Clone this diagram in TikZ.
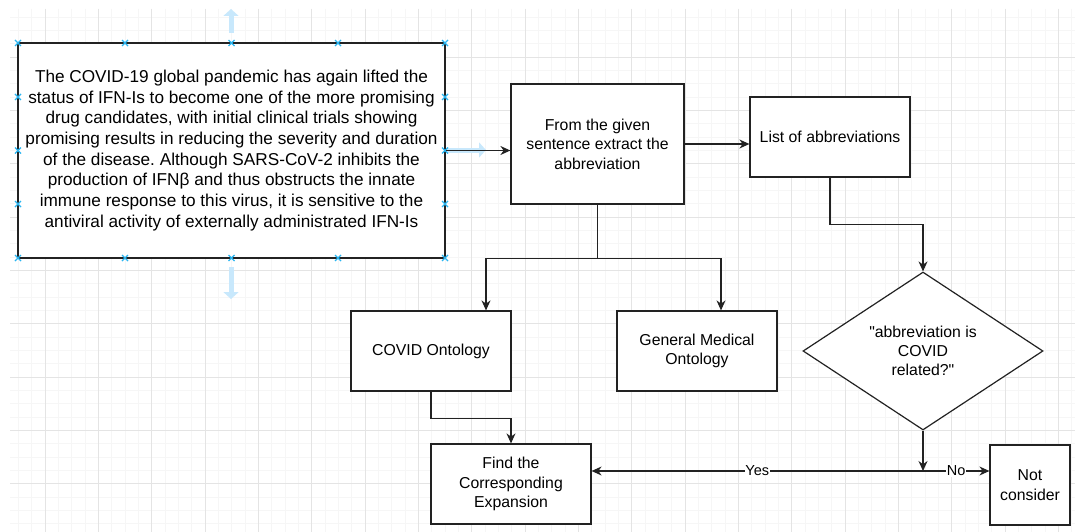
\documentclass[tikz,border=0pt]{standalone}
\usepackage{fontspec}
\setmainfont{Liberation Sans}
\usetikzlibrary{arrows.meta,shapes.geometric}
\frenchspacing
\definecolor{gridminor}{RGB}{246,246,246}
\definecolor{gridmajor}{RGB}{228,228,228}
\definecolor{handle}{RGB}{41,182,242}
\definecolor{hover}{RGB}{200,232,252}
\definecolor{ink}{RGB}{34,34,34}
\tikzset{
  box/.style={draw=ink, line width=1.2pt, fill=white, rectangle, inner sep=2pt,
    align=center, text=black, font=\fontsize{15.8}{19.5}\selectfont},
  bigtext/.style={font=\fontsize{17.2}{20.7}\selectfont},
  decbox/.style={draw=ink, line width=1.2pt, fill=white, diamond, inner sep=0pt,
    align=center, text=black, font=\fontsize{15.8}{19}\selectfont},
  conn/.style={draw=ink, line width=1.2pt},
  arr/.style={conn, -{Stealth[length=10pt,width=9pt]}},
  elabel/.style={fill=white, inner sep=0.5pt, text=black, font=\fontsize{14.5}{16}\selectfont},
  hmark/.style={draw=handle, line width=1.3pt},
  hoverarrow/.style={draw=hover, line width=5pt, -{Triangle[length=7pt,width=15pt]}},
}
\begin{document}
\begin{tikzpicture}[x=1pt,y=-1pt]
\useasboundingbox (0,0) rectangle (1075,532);
\fill[white] (0,0) rectangle (1075,532);
% grid
\begin{scope}
\clip (10,9) rectangle (1075,532);
\foreach \i in {0,...,81} {\draw[gridminor, line width=0.8pt] ({5+13.3333*\i},9) -- ++(0,523);}
\foreach \i in {0,...,40} {\draw[gridminor, line width=0.8pt] (10,{3.67+13.3333*\i}) -- ++(1065,0);}
\foreach \i in {-1,...,20} {\draw[gridmajor, line width=1pt] ({45+53.3333*\i},9) -- ++(0,523);}
\foreach \i in {0,...,10} {\draw[gridmajor, line width=1pt] (10,{3.67+53.3333*\i}) -- ++(1065,0);}
\end{scope}
% faint hover arrows
\draw[hoverarrow] (231,33) -- (231,9);
\draw[hoverarrow] (231,267) -- (231,299);
\draw[hoverarrow] (446,150) -- (486,150);
% nodes
\node[box, bigtext, minimum width=427pt, minimum height=215pt] (src) at (231.5,150.5)
  {The COVID-19 global pandemic has again lifted the\\
   status of IFN-Is to become one of the more promising\\
   drug candidates, with initial clinical trials showing\\
   promising results in reducing the severity and duration\\
   of the disease. Although SARS-CoV-2 inhibits the\\
   production of IFNβ and thus obstructs the innate\\
   immune response to this virus, it is sensitive to the\\
   antiviral activity of externally administrated IFN-Is};
\node[box, minimum width=173pt, minimum height=120pt] (ext) at (597.5,144)
  {From the given\\sentence extract the\\abbreviation};
\node[box, minimum width=160pt, minimum height=80pt] (list) at (830,137)
  {List of abbreviations};
\node[decbox, minimum width=240pt, minimum height=158pt] (dec) at (923,351)
  {\textquotedbl abbreviation is\\COVID\\related?\textquotedbl};
\node[box, minimum width=160pt, minimum height=80pt] (covid) at (431,351)
  {COVID Ontology};
\node[box, minimum width=160pt, minimum height=80pt] (gen) at (697,351)
  {General Medical\\Ontology};
\node[box, minimum width=160pt, minimum height=80pt] (find) at (511,484)
  {Find the\\Corresponding\\Expansion};
\node[box, minimum width=80pt, minimum height=80pt] (notc) at (1030,485)
  {Not\\consider};
\coordinate (j) at (923,471);
% handles on the selected text box
\foreach \hx in {18,125,231.5,338,445} {
  \foreach \hy in {43,258} {
    \draw[hmark] (\hx-3,\hy-3) -- (\hx+3,\hy+3) (\hx-3,\hy+3) -- (\hx+3,\hy-3);
  }
}
\foreach \hx in {18,445} {
  \foreach \hy in {97,150.5,204} {
    \draw[hmark] (\hx-3,\hy-3) -- (\hx+3,\hy+3) (\hx-3,\hy+3) -- (\hx+3,\hy-3);
  }
}
% connectors
\draw[arr] (src.east) -- (src.east -| ext.west);
\draw[arr] (ext.east) -- (ext.east -| list.west);
\draw[arr] (ext.south) -- ++(0,54) -| ([xshift=55pt]covid.north);
\draw[arr] (ext.south) -- ++(0,54) -| ([xshift=24pt]gen.north);
\draw[arr] (list.south) -- ++(0,47) -| (dec.north);
\draw[arr] (covid.south) -- ++(0,27) -| (find.north);
\draw[arr] (dec.south) -- (j);
\draw[arr] (j) -- node[elabel, pos=0.5] {Yes} (j -| find.east);
\draw[arr] (j) -- node[elabel, pos=0.5] {No} (j -| notc.west);
\end{tikzpicture}
\end{document}
